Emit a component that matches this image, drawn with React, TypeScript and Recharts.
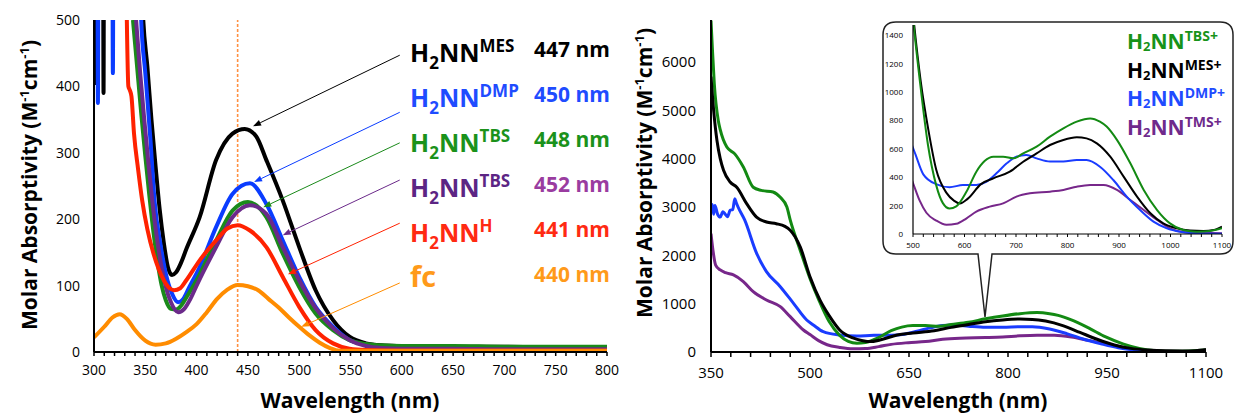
import React from "react"
import { LineChart, Line, XAxis, YAxis, ReferenceLine } from "recharts"

// ---------- left panel: neutral radicals, 300-800 nm ----------
const mesNmL = [300, 300.8, 308.5, 309.3, 310, 340, 348, 352, 356, 360, 364, 368, 372, 376, 380, 385, 390, 403, 419, 435, 447, 458, 468, 484, 500, 516, 533, 549, 565, 580, 600, 650, 700, 750, 800]
const mesEpsL = [402, 900, 900, 390, 900, 900, 500, 430, 350, 280, 215, 165, 128, 116, 120, 135, 155, 203, 289, 329, 336, 325, 289, 228, 158, 93, 48, 23, 13, 10, 9, 8, 8, 7, 7]

const dmpNmL = [300, 303, 303.8, 304.6, 317.5, 318.4, 319.3, 340, 346, 350, 355, 359, 365, 370, 376, 382, 387, 392, 403, 419, 435, 452, 468, 484, 500, 516, 533, 549, 565, 580, 600, 650, 700, 800]
const dmpEpsL = [900, 900, 375, 900, 900, 420, 900, 900, 500, 420, 320, 228, 160, 118, 88, 75, 80, 95, 128, 188, 238, 254, 223, 168, 113, 68, 38, 18, 11, 8, 7, 6, 6, 6]

const tbsNmL = [338, 342, 346, 350, 354, 358, 362, 366, 370, 375, 380, 385, 390, 400, 419, 435, 450, 468, 484, 500, 516, 533, 549, 565, 580, 600, 650, 700, 750, 800]
const tbsEpsL = [500, 430, 360, 295, 235, 180, 135, 100, 78, 65, 64, 70, 82, 108, 168, 213, 226, 203, 148, 98, 58, 33, 18, 12, 10, 9, 9, 8, 8, 8]

const tmsNmL = [341, 345, 349, 353, 357, 361, 365, 370, 375, 382, 388, 394, 400, 419, 435, 452, 468, 484, 500, 516, 533, 549, 565, 580, 600, 650, 700, 800]
const tmsEpsL = [500, 420, 350, 285, 225, 175, 135, 98, 75, 60, 65, 80, 100, 158, 203, 221, 208, 158, 108, 66, 36, 18, 9, 6, 5, 5, 4, 4]

const hNmL = [332, 333.5, 335, 336.5, 339, 343, 347, 352, 358, 363, 368, 373, 378, 384, 390, 403, 419, 430, 440, 452, 468, 484, 500, 516, 533, 549, 565, 600, 700, 800]
const hEpsL = [500, 400, 394, 385, 329, 275, 228, 185, 148, 125, 108, 97, 93, 96, 108, 138, 168, 186, 191, 183, 158, 113, 68, 33, 13, 5, 3, 2, 2, 2]

const fcNmL = [300, 310, 318, 325, 332, 340, 350, 360, 370, 380, 390, 400, 410, 420, 430, 440, 450, 460, 470, 480, 490, 500, 510, 520, 530, 540, 560, 600, 700, 800]
const fcEpsL = [22, 38, 52, 57, 50, 33, 17, 11, 13, 20, 30, 42, 60, 80, 94, 101, 99, 93, 80, 67, 52, 38, 25, 14, 6, 2, 2, 2, 2, 2]

// label rows (top to bottom) and arrows (label end -> curve), in data units
const labelSup = ["MES", "DMP", "TBS", "TBS", "H", ""]
const labelPeak = ["447 nm", "450 nm", "448 nm", "452 nm", "441 nm", "440 nm"]
const labelColor = ["#000000", "#1f4cff", "#1b921b", "#5c2584", "#ff2a12", "#ff9a1a"]
const peakColor = ["#000000", "#1f4cff", "#1b921b", "#9a3ca0", "#ff2a12", "#ff9a1a"]
const arrowFrom = [[598, 447], [598, 361], [598, 315], [598, 259], [598, 194], [598, 104]]
const arrowTo = [[455, 340], [456, 256], [465, 218], [484, 176], [489, 117], [502, 38]]

// ---------- right panel: cations, 350-1100 nm ----------
const tbsNmR = [350, 352, 355, 361, 364, 374, 386, 399, 414, 426, 444, 455, 465, 470, 485, 500, 513, 529, 545, 558, 571, 584, 604, 623, 639, 656, 675, 695, 714, 740, 766, 792, 818, 844, 863, 876, 896, 922, 948, 974, 999, 1025, 1051, 1077, 1100]
const tbsEpsR = [6860, 6300, 5550, 4790, 4600, 4240, 4100, 3830, 3410, 3345, 3310, 3200, 3000, 2733, 2112, 1520, 1090, 630, 345, 218, 180, 195, 300, 440, 515, 546, 546, 534, 569, 616, 687, 746, 793, 816, 793, 758, 664, 499, 311, 169, 75, 28, 16, 21, 40]

const mesNmR = [350, 354, 359, 364, 369, 379, 389, 404, 419, 434, 449, 462, 470, 485, 500, 515, 530, 545, 565, 580, 591, 606, 632, 656, 688, 714, 740, 766, 792, 818, 837, 857, 883, 909, 935, 961, 986, 1012, 1038, 1064, 1084, 1100]
const mesEpsR = [5700, 5000, 4380, 4000, 3760, 3517, 3410, 3070, 2790, 2690, 2655, 2600, 2520, 2180, 1559, 1077, 731, 455, 290, 234, 215, 248, 352, 393, 440, 510, 569, 628, 664, 682, 675, 640, 546, 405, 264, 146, 75, 40, 24, 21, 28, 52]

const dmpNmR = [350, 352, 354, 356, 360, 364, 368, 371, 375, 379, 383, 386, 388, 391, 401, 419, 434, 455, 475, 495, 505, 520, 545, 571, 597, 623, 643, 662, 682, 701, 720, 740, 766, 792, 818, 837, 863, 889, 915, 941, 967, 993, 1019, 1045, 1100]
const dmpEpsR = [2900, 3050, 2850, 3034, 2850, 2793, 2900, 2862, 2800, 2931, 2950, 3172, 3100, 3000, 2733, 2046, 1663, 1352, 1007, 662, 560, 421, 352, 330, 346, 346, 369, 428, 499, 546, 558, 534, 511, 511, 522, 522, 475, 381, 264, 169, 87, 40, 16, 5, 2]

const tmsNmR = [350, 353, 357, 364, 372, 384, 399, 414, 434, 455, 470, 490, 500, 513, 526, 545, 565, 584, 604, 623, 649, 675, 701, 727, 766, 792, 818, 844, 870, 896, 922, 948, 974, 999, 1025, 1100]
const tmsEpsR = [2448, 2100, 1800, 1698, 1640, 1594, 1456, 1249, 1077, 938, 731, 455, 360, 235, 150, 95, 65, 72, 111, 158, 193, 216, 264, 287, 299, 311, 334, 346, 346, 311, 240, 169, 99, 40, 14, 5]

const insetSup = ["TBS+", "MES+", "DMP+", "TMS+"]
const insetColor = ["#17931a", "#000000", "#1f4cff", "#6f2a8c"]

// ticks
const range = (a: number, b: number, s: number) => Array.from({ length: Math.round((b - a) / s) + 1 }, (_, i) => a + i * s)
const leftXTicks = range(300, 800, 10)
const leftYTicks = [0, 100, 200, 300, 400, 500]
const rightXTicks = range(350, 1100, 30)
const rightYTicks = [0, 1000, 2000, 3000, 4000, 5000, 6000]
const insetXTicks = range(500, 1100, 20)
const insetYTicks = [0, 200, 400, 600, 800, 1000, 1200, 1400]

const pts = (xs: number[], ys: number[]) => xs.map((x, i) => ({ x, y: ys[i] }))

const FONT = "'Open Sans', sans-serif"
const C = { black: "#000000", blue: "#0a3cff", green: "#1a8a1a", purple: "#6b2a8a", red: "#ff2200", orange: "#ff8c00" }
const leftLineColor = [C.black, C.blue, C.green, C.purple, C.red, C.orange]
const rightC = { green: "#138a13", black: "#000000", blue: "#1a3cff", purple: "#77278a" }

function Arrow(p: any) {
  const { x1, y1, x2, y2, color } = p
  const a = Math.atan2(y2 - y1, x2 - x1)
  const L = 8
  const W = 3
  const bx = x2 - L * Math.cos(a)
  const by = y2 - L * Math.sin(a)
  const tri = `${x2},${y2} ${bx + W * Math.sin(a)},${by - W * Math.cos(a)} ${bx - W * Math.sin(a)},${by + W * Math.cos(a)}`
  return (
    <g>
      <line x1={x1} y1={y1} x2={bx} y2={by} stroke={color} strokeWidth={1} />
      <polygon points={tri} fill={color} />
    </g>
  )
}

function H2NN({ x, y, sup, color, size, subSize, supSize, subDy, supDy }: any) {
  return (
    <text x={x} y={y} fill={color} fontSize={size} fontWeight={700} fontFamily={FONT}>
      H<tspan dy={subDy} fontSize={subSize}>2</tspan>
      <tspan dy={-subDy}>NN</tspan>
      <tspan dy={-supDy} fontSize={supSize}>{sup}</tspan>
    </text>
  )
}

function LeftChart() {
  const series = [
    pts(mesNmL, mesEpsL),
    pts(dmpNmL, dmpEpsL),
    pts(tbsNmL, tbsEpsL),
    pts(tmsNmL, tmsEpsL),
    pts(hNmL, hEpsL),
    pts(fcNmL, fcEpsL),
  ]
  return (
    <LineChart width={620} height={413} margin={{ top: 20, right: 13, bottom: 31, left: 34 }}>
      <XAxis
        type="number"
        dataKey="x"
        domain={[300, 800]}
        allowDataOverflow
        ticks={leftXTicks}
        interval={0}
        tickFormatter={(v: number) => (v % 50 === 0 ? String(v) : "")}
        height={30}
        tickSize={4}
        tickMargin={9}
        tick={{ fontSize: 14, fill: "#000", fontFamily: FONT }}
        axisLine={{ stroke: "#000", strokeWidth: 2 }}
        tickLine={{ stroke: "#000", strokeWidth: 1.5 }}
      />
      <YAxis
        type="number"
        domain={[0, 500]}
        allowDataOverflow
        ticks={leftYTicks}
        width={60}
        tickSize={6}
        tickMargin={8}
        tickLine={false}
        tick={{ fontSize: 14, fill: "#000", fontFamily: FONT }}
        axisLine={{ stroke: "#000", strokeWidth: 2 }}
      />
      <ReferenceLine x={440} stroke="#ff9040" strokeDasharray="3 2" strokeWidth={1.6} />
      {series.map((d, i) => (
        <Line
          key={i}
          data={d}
          dataKey="y"
          type="monotone"
          stroke={leftLineColor[i]}
          strokeWidth={4}
          dot={false}
          activeDot={false}
          isAnimationActive={false}
        />
      ))}
      {arrowFrom.map((f, i) => (
        <ReferenceLine
          key={"a" + i}
          segment={[{ x: f[0], y: f[1] }, { x: arrowTo[i][0], y: arrowTo[i][1] }]}
          ifOverflow="visible"
          shape={(p: any) => <Arrow {...p} color={leftLineColor[i]} />}
        />
      ))}
    </LineChart>
  )
}

function RightChart() {
  return (
    <LineChart width={618} height={413} margin={{ top: 20, right: 32, bottom: 31, left: 31 }}>
      <XAxis
        type="number"
        dataKey="x"
        domain={[350, 1100]}
        allowDataOverflow
        ticks={rightXTicks}
        interval={0}
        tickFormatter={(v: number) => ((v - 350) % 150 === 0 ? String(v) : "")}
        height={30}
        tickSize={5}
        tickMargin={10}
        tick={{ fontSize: 15, fill: "#000", fontFamily: FONT }}
        axisLine={{ stroke: "#000", strokeWidth: 2 }}
        tickLine={{ stroke: "#000", strokeWidth: 1.5 }}
      />
      <YAxis
        type="number"
        domain={[0, 6870]}
        allowDataOverflow
        ticks={rightYTicks}
        width={60}
        tickSize={6}
        tickMargin={9}
        tickLine={false}
        tick={{ fontSize: 15, fill: "#000", fontFamily: FONT }}
        axisLine={{ stroke: "#000", strokeWidth: 2 }}
      />
      <Line data={pts(tmsNmR, tmsEpsR)} dataKey="y" type="monotone" stroke={rightC.purple} strokeWidth={3} dot={false} activeDot={false} isAnimationActive={false} />
      <Line data={pts(dmpNmR, dmpEpsR)} dataKey="y" type="monotone" stroke={rightC.blue} strokeWidth={3} dot={false} activeDot={false} isAnimationActive={false} />
      <Line data={pts(tbsNmR, tbsEpsR)} dataKey="y" type="monotone" stroke={rightC.green} strokeWidth={3} dot={false} activeDot={false} isAnimationActive={false} />
      <Line data={pts(mesNmR, mesEpsR)} dataKey="y" type="monotone" stroke={rightC.black} strokeWidth={3} dot={false} activeDot={false} isAnimationActive={false} />
    </LineChart>
  )
}

function InsetChart() {
  return (
    <LineChart width={350} height={232} margin={{ top: 3, right: 11, bottom: 6, left: 6 }}>
      <XAxis
        type="number"
        dataKey="x"
        domain={[500, 1100]}
        allowDataOverflow
        ticks={insetXTicks}
        interval={0}
        tickFormatter={(v: number) => (v % 100 === 0 ? String(v) : "")}
        height={14}
        tickSize={3}
        tickMargin={5}
        tick={{ fontSize: 8, fill: "#000", fontFamily: FONT }}
        axisLine={{ stroke: "#000", strokeWidth: 1.2 }}
        tickLine={{ stroke: "#000", strokeWidth: 1 }}
      />
      <YAxis
        type="number"
        domain={[0, 1475]}
        allowDataOverflow
        ticks={insetYTicks}
        width={24}
        tickSize={4}
        tickMargin={6}
        tickLine={false}
        tick={{ fontSize: 8, fill: "#000", fontFamily: FONT }}
        axisLine={{ stroke: "#000", strokeWidth: 1.2 }}
      />
      <Line data={pts(tmsNmR, tmsEpsR)} dataKey="y" type="monotone" stroke={rightC.purple} strokeWidth={2} dot={false} activeDot={false} isAnimationActive={false} />
      <Line data={pts(dmpNmR, dmpEpsR)} dataKey="y" type="monotone" stroke={rightC.blue} strokeWidth={2} dot={false} activeDot={false} isAnimationActive={false} />
      <Line data={pts(mesNmR, mesEpsR)} dataKey="y" type="monotone" stroke={rightC.black} strokeWidth={2} dot={false} activeDot={false} isAnimationActive={false} />
      <Line data={pts(tbsNmR, tbsEpsR)} dataKey="y" type="monotone" stroke={rightC.green} strokeWidth={2} dot={false} activeDot={false} isAnimationActive={false} />
    </LineChart>
  )
}

// inset frame with the callout pointer
const BX0 = 883, BY0 = 22, BX1 = 1233, BY1 = 254, R = 13
const frame =
  `M${BX0 + R},${BY0} H${BX1 - R} Q${BX1},${BY0} ${BX1},${BY0 + R} V${BY1 - R} Q${BX1},${BY1} ${BX1 - R},${BY1} ` +
  `H992 L985,317 L978,${BY1} H${BX0 + R} Q${BX0},${BY1} ${BX0},${BY1 - R} V${BY0 + R} Q${BX0},${BY0} ${BX0 + R},${BY0} Z`

export default function App() {
  const abs = (l: number, t: number): React.CSSProperties => ({ position: "absolute", left: l, top: t })
  return (
    <div style={{ position: "absolute", left: 0, top: 0, width: 1238, height: 413, background: "#fff", overflow: "hidden" }}>
      <div style={abs(0, 0)}>
        <LeftChart />
      </div>
      <div style={abs(620, 0)}>
        <RightChart />
      </div>
      <svg width={1238} height={413} style={{ ...abs(0, 0), pointerEvents: "none" }}>
        <path d={frame} fill="#fff" stroke="#222" strokeWidth={1.5} />
      </svg>
      <div style={abs(BX0, BY0)}>
        <InsetChart />
      </div>
      <svg width={1238} height={413} style={{ ...abs(0, 0), pointerEvents: "none" }}>
        {/* axis titles */}
        <text x={350} y={408} textAnchor="middle" fontSize={21} fontWeight={700} fontFamily={FONT}>Wavelength (nm)</text>
        <text x={958} y={408} textAnchor="middle" fontSize={21} fontWeight={700} fontFamily={FONT}>Wavelength (nm)</text>
        {[[37, 185], [652, 173]].map(([x, y], i) => (
          <text key={i} transform={`translate(${x},${y}) rotate(-90)`} textAnchor="middle" fontSize={21} fontWeight={700} fontFamily={FONT}>
            Molar Absorptivity (M<tspan dy={-8} fontSize={13}>-1</tspan>
            <tspan dy={8}>cm</tspan>
            <tspan dy={-8} fontSize={13}>-1</tspan>
            <tspan dy={8}>)</tspan>
          </text>
        ))}
        {/* left panel labels */}
        {labelSup.map((s, i) =>
          i < 5 ? (
            <H2NN key={i} x={410} y={62 + i * 45} sup={s} color={labelColor[i]} size={25} subSize={17} supSize={17} subDy={7} supDy={10} />
          ) : (
            <text key={i} x={410} y={62 + i * 45} fill={labelColor[i]} fontSize={29} fontWeight={700} fontFamily={FONT}>fc</text>
          )
        )}
        {labelPeak.map((t, i) => (
          <text key={"p" + i} x={610} y={57 + i * 45} textAnchor="end" fill={peakColor[i]} fontSize={21} fontWeight={700} fontFamily={FONT}>
            {t}
          </text>
        ))}
        {/* inset legend */}
        {insetSup.map((s, i) => (
          <H2NN key={"i" + i} x={1127} y={49 + i * 28.5} sup={s} color={insetColor[i]} size={21} subSize={13} supSize={14} subDy={2} supDy={8} />
        ))}
      </svg>
    </div>
  )
}
